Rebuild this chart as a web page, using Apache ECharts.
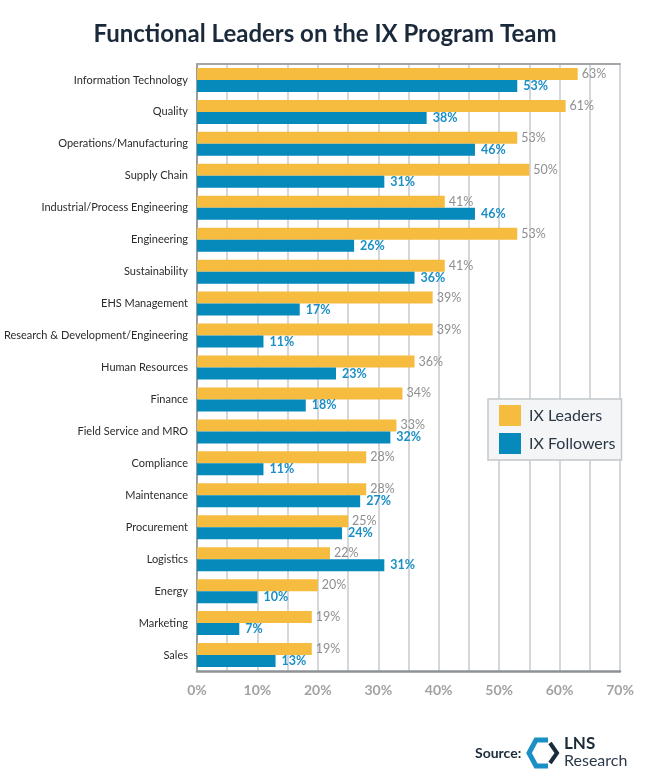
<!DOCTYPE html>
<html><head><meta charset="utf-8">
<script src="https://cdn.jsdelivr.net/npm/echarts@6/dist/echarts.min.js"></script>
<style>html,body{margin:0;padding:0;background:#fff}#c{width:650px;height:774px}</style>
</head><body><div id="c"></div>
<script>
const categories = ['Information Technology','Quality','Operations/Manufacturing','Supply Chain','Industrial/Process Engineering','Engineering','Sustainability','EHS Management','Research & Development/Engineering','Human Resources','Finance','Field Service and MRO','Compliance','Maintenance','Procurement','Logistics','Energy','Marketing','Sales'];
const leadersValues = [63,61,53,55,41,53,41,39,39,36,34,33,28,28,25,22,20,19,19];
const leadersLabels = ['63%','61%','53%','50%','41%','53%','41%','39%','39%','36%','34%','33%','28%','28%','25%','22%','20%','19%','19%'];
const followersValues = [53,38,46,31,46,26,36,17,11,23,18,32,11,27,24,31,10,7,13];
const seriesNames = ['IX Leaders','IX Followers'];

const chart = echarts.init(document.getElementById('c'), null, {renderer:'canvas'});
const F = 'Lato, "Open Sans", sans-serif';
const gridStyle = {color:'#c6cacf', width:1.5};
chart.setOption({
  animation:false,
  backgroundColor:'#ffffff',
  title:{text:'Functional Leaders on the IX Program Team', left:'center', top:17,
    textStyle:{fontFamily:F, fontWeight:'bold', fontSize:24, color:'#1b2a3a'}},
  legend:{data:seriesNames, orient:'vertical', left:488, top:399,
    backgroundColor:'#f4f5f7', borderColor:'#c3c7cc', borderWidth:1.5,
    padding:[6,6,6,11], itemWidth:22, itemHeight:21, itemGap:7, icon:'rect',
    textStyle:{fontFamily:F, fontSize:16, color:'#2a3745', padding:[0,0,0,3]}},
  grid:{left:197, right:30, top:64, bottom:103, containLabel:false, outerBoundsMode:'none'},
  xAxis:[{type:'value', min:0, max:70, interval:10, position:'bottom',
    axisLine:{show:true, lineStyle:{color:'#8e9296', width:2.5}},
    axisTick:{show:false},
    axisLabel:{formatter:'{value}%', margin:12, fontFamily:F, fontWeight:'bold', fontSize:14, color:'#a2a2a2'},
    splitLine:{show:true, lineStyle:gridStyle},
    minorTick:{show:false, splitNumber:2},
    minorSplitLine:{show:true, lineStyle:gridStyle}},
   {type:'value', min:0, max:70, interval:10, position:'top',
    axisLine:{show:true, onZero:false, lineStyle:{color:'#a3a7ab', width:2}},
    axisTick:{show:false}, axisLabel:{show:false}, splitLine:{show:false}}],
  yAxis:{type:'category', data:categories, inverse:true,
    axisLine:{show:true, lineStyle:{color:'#9a9ea2', width:2}},
    axisTick:{show:false},
    axisLabel:{margin:9, fontFamily:F, fontSize:11, color:'#2b2b2b'}},
  series:[
    {name:seriesNames[0], type:'bar', data:leadersValues, barWidth:12, barGap:'0%',
     itemStyle:{color:'#f5bc40'},
     label:{show:true, position:'right', distance:4, formatter:p=>leadersLabels[p.dataIndex],
       fontFamily:F, fontSize:12.5, color:'#8f8f8f'}},
    {name:seriesNames[1], type:'bar', data:followersValues, barWidth:12, barGap:'0%',
     itemStyle:{color:'#0689bb'},
     label:{show:true, position:'right', distance:6, formatter:'{c}%',
       fontFamily:F, fontWeight:'bold', fontSize:12.5, color:'#1a8fc6'}}
  ],
  graphic:[
    {type:'text', left:475, top:746, style:{text:'Source:', fontFamily:F, fontWeight:'bold', fontSize:14, fill:'#1c2b3a'}},
    {type:'polyline', shape:{points:[[548,740],[536,740],[529,753],[536,766],[548,766]]},
     style:{stroke:'#1a8fc6', lineWidth:5, fill:null, lineJoin:'miter'}},
    {type:'polyline', shape:{points:[[550,743],[557,753],[550,763]]},
     style:{stroke:'#1c2b3a', lineWidth:4, fill:null, lineJoin:'miter'}},
    {type:'text', left:564, top:735, style:{text:'LNS', fontFamily:F, fontWeight:'bold', fontSize:17, fill:'#1c2b3a'}},
    {type:'text', left:564, top:753, style:{text:'Research', fontFamily:F, fontSize:16, fill:'#2b3a4a'}}
  ]
});
</script></body></html>
